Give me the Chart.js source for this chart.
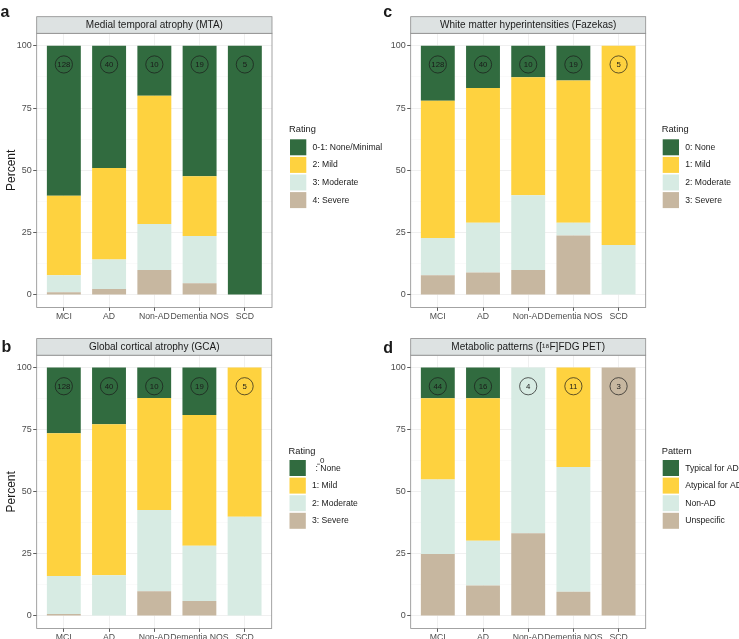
<!DOCTYPE html>
<html>
<head>
<meta charset="utf-8">
<title>Imaging ratings by diagnostic group</title>
<script src="https://cdn.jsdelivr.net/npm/chart.js@4.4.1/dist/chart.umd.min.js"></script>
<style>
    html, body { margin: 0; padding: 0; background: #fff; }
    body { position: relative; width: 739px; height: 639px; overflow: hidden; }
    canvas { position: absolute; }
</style>
</head>
<body>
<canvas id="chartA" width="400" height="320" style="left:0;top:0"></canvas>
<canvas id="chartC" width="369" height="320" style="left:370px;top:0"></canvas>
<canvas id="chartB" width="400" height="319" style="left:0;top:320px"></canvas>
<canvas id="chartD" width="369" height="319" style="left:370px;top:320px"></canvas>

<script>
// Shared categories and axis ticks
const groups = ['MCI', 'AD', 'Non-AD', 'Dementia NOS', 'SCD'];
const yTickValues = [0, 12.5, 25, 37.5, 50, 62.5, 75, 87.5, 100];
const countLevel = 92.5;

// a: Medial temporal atrophy (MTA)
const mtaLabels = ['4: Severe', '3: Moderate', '2: Mild', '0-1: None/Minimal'];
const mtaCounts = [128, 40, 10, 19, 5];
const mtaSevere = [1.1, 2.4, 10.0, 4.7, 0];
const mtaModerate = [6.8, 11.8, 18.5, 19.0, 0];
const mtaMild = [31.9, 36.7, 51.4, 23.9, 0];
const mtaNone = [60.2, 49.1, 20.1, 52.4, 100];

// b: Global cortical atrophy (GCA)
const gcaLabels = ['3: Severe', '2: Moderate', '1: Mild', '0\n: None'];
const gcaCounts = [128, 40, 10, 19, 5];
const gcaSevere = [0.8, 0, 10.0, 6.0, 0];
const gcaModerate = [15.3, 16.4, 32.7, 22.3, 40];
const gcaMild = [57.5, 60.8, 45.1, 52.6, 60];
const gcaNone = [26.4, 22.8, 12.2, 19.1, 0];

// c: White matter hyperintensities (Fazekas)
const fazLabels = ['3: Severe', '2: Moderate', '1: Mild', '0: None'];
const fazCounts = [128, 40, 10, 19, 5];
const fazSevere = [7.9, 9.0, 10.0, 23.9, 0];
const fazModerate = [15.0, 20.0, 30.0, 5.1, 20];
const fazMild = [55.0, 54.0, 47.4, 57.1, 80];
const fazNone = [22.1, 17.0, 12.6, 13.9, 0];

// d: Metabolic patterns (FDG PET)
const petLabels = ['Unspecific', 'Non-AD', 'Atypical for AD', 'Typical for AD'];
const petCounts = [44, 16, 4, 11, 3];
const petUnspecific = [25.0, 12.3, 33.3, 9.8, 100];
const petNonAD = [30.0, 18.0, 66.7, 50.2, 0];
const petAtypical = [32.7, 57.4, 0, 40.0, 0];
const petTypical = [12.3, 12.3, 0, 0, 0];

// bottom of stack -> top of stack
const fillColors = ['#c7b7a0', '#d7ebe3', '#fed23f', '#316b3f'];

Chart.defaults.font.family = '"Liberation Sans", Arial, Helvetica, sans-serif';
Chart.defaults.color = '#4d4d4d';

/**
 * Strip header, panel frame, letter, n-circles and legend
 */
const panelDecor = {
    id: 'panelDecor',
    afterDatasetsDraw(chart, args, o) {
        const { ctx, scales: { x, y } } = chart;
        ctx.save();
        o.counts.forEach((n, i) => {
            const cx = x.getPixelForValue(i);
            const cy = y.getPixelForValue(countLevel);
            ctx.beginPath();
            ctx.arc(cx, cy, 8.6, 0, Math.PI * 2);
            ctx.lineWidth = 0.7;
            ctx.strokeStyle = '#1a1a1a';
            ctx.stroke();
            ctx.fillStyle = '#1a1a1a';
            ctx.font = '7.8px "Liberation Sans", Arial, sans-serif';
            ctx.textAlign = 'center';
            ctx.textBaseline = 'middle';
            ctx.fillText(String(n), cx, cy + 0.5);
        });
        ctx.restore();
    },
    afterDraw(chart, args, o) {
        const { ctx, chartArea: a } = chart;
        ctx.save();

        // panel border
        ctx.strokeStyle = '#8c8c8c';
        ctx.lineWidth = 0.8;
        ctx.strokeRect(a.left, a.top, a.right - a.left, a.bottom - a.top);

        // strip
        const stripH = 16.6;
        ctx.fillStyle = '#dde2e2';
        ctx.fillRect(a.left, a.top - stripH, a.right - a.left, stripH);
        ctx.strokeRect(a.left, a.top - stripH, a.right - a.left, stripH);
        ctx.fillStyle = '#1a1a1a';
        ctx.font = '10px "Liberation Sans", Arial, sans-serif';
        ctx.textAlign = 'center';
        ctx.textBaseline = 'middle';
        ctx.fillText(o.title, (a.left + a.right) / 2, a.top - stripH / 2 + 0.5);

        // panel letter
        ctx.font = 'bold 16px "Liberation Sans", Arial, sans-serif';
        ctx.textAlign = 'left';
        ctx.textBaseline = 'alphabetic';
        ctx.fillText(o.letter, o.letterX, o.letterY);

        // legend
        const lg = o.legend;
        ctx.font = '9.3px "Liberation Sans", Arial, sans-serif';
        ctx.fillStyle = '#1a1a1a';
        ctx.fillText(lg.title, lg.x - 1, lg.titleY);
        const items = chart.data.datasets.slice().reverse();
        items.forEach((ds, i) => {
            const top = lg.top + i * 17.6;
            ctx.fillStyle = ds.backgroundColor;
            ctx.fillRect(lg.x, top, 16.3, 16);
            ctx.fillStyle = '#1a1a1a';
            ctx.textBaseline = 'middle';
            const parts = ds.label.split('\n');
            if (parts.length > 1) {
                ctx.font = '8px "Liberation Sans", Arial, sans-serif';
                ctx.fillText(parts[0], lg.x + 30.5, top + 1);
                ctx.lineWidth = 0.6;
                ctx.strokeStyle = '#1a1a1a';
                ctx.beginPath();
                ctx.moveTo(lg.x + 27.5, top + 4.2);
                ctx.lineTo(lg.x + 30.5, top + 4.2);
                ctx.stroke();
                ctx.font = '8.6px "Liberation Sans", Arial, sans-serif';
                ctx.fillText(parts[1], lg.x + 26, top + 9);
            } else {
                ctx.font = '8.6px "Liberation Sans", Arial, sans-serif';
                ctx.fillText(ds.label, lg.x + 22.5, top + 8.2);
            }
            ctx.textBaseline = 'alphabetic';
        });

        ctx.restore();
    }
};

/**
 * Build one stacked percentage panel
 */
function createRatingChart(canvasId, s) {
    const canvas = document.getElementById(canvasId);
    if (!canvas) return;

    const datasets = s.series.map((values, i) => ({
        label: s.labels[i],
        data: values.map((v, k) => ({ x: k, y: v })),
        backgroundColor: fillColors[i],
        borderWidth: 0,
        barPercentage: 0.75,
        categoryPercentage: 1
    }));

    const isMajor = c => c.tick && c.tick.value % 25 === 0;

    new Chart(canvas.getContext('2d'), {
        type: 'bar',
        data: { datasets },
        options: {
            responsive: false,
            animation: false,
            layout: {
                padding: { top: s.plotTop, right: canvas.width - s.plotRight, left: 0, bottom: 0 }
            },
            plugins: {
                legend: { display: false },
                tooltip: { enabled: false },
                panelDecor: {
                    title: s.title,
                    letter: s.letter,
                    letterX: s.letterX,
                    letterY: s.letterY,
                    counts: s.counts,
                    legend: s.legend
                }
            },
            scales: {
                x: {
                    type: 'linear',
                    stacked: true,
                    min: -0.6,
                    max: 4.6,
                    offset: false,
                    afterBuildTicks: sc => { sc.ticks = groups.map((g, i) => ({ value: i })); },
                    afterFit: sc => { sc.height = canvas.height - s.plotBottom; },
                    ticks: {
                        callback: v => groups[v],
                        autoSkip: false,
                        maxRotation: 0,
                        minRotation: 0,
                        padding: 0,
                        color: '#4d4d4d',
                        font: { size: 8.7 }
                    },
                    grid: {
                        offset: false,
                        color: '#ececec',
                        lineWidth: 0.8,
                        tickLength: 3.5,
                        tickColor: '#333',
                        tickWidth: 0.8
                    },
                    border: { display: false }
                },
                y: {
                    stacked: true,
                    min: -5,
                    max: 105,
                    afterBuildTicks: sc => { sc.ticks = yTickValues.map(v => ({ value: v })); },
                    afterFit: sc => { sc.width = s.plotLeft; },
                    ticks: {
                        callback: v => (v % 25 === 0 ? v : ''),
                        autoSkip: false,
                        padding: 1.5,
                        color: '#4d4d4d',
                        font: { size: 9 }
                    },
                    grid: {
                        color: c => (isMajor(c) ? '#ececec' : '#f5f5f5'),
                        lineWidth: c => (isMajor(c) ? 0.8 : 0.5),
                        tickLength: 3.5,
                        tickColor: c => (isMajor(c) ? '#333' : 'rgba(0,0,0,0)'),
                        tickWidth: 0.8
                    },
                    border: { display: false },
                    title: {
                        display: !!s.yTitle,
                        text: s.yTitle || '',
                        color: '#1a1a1a',
                        font: { size: 12 },
                        padding: { top: 4, bottom: 4 }
                    }
                }
            }
        },
        plugins: [panelDecor]
    });
}

document.addEventListener('DOMContentLoaded', function() {
    createRatingChart('chartA', {
        title: 'Medial temporal atrophy (MTA)', letter: 'a', letterX: 0.5, letterY: 16.7,
        labels: mtaLabels, counts: mtaCounts,
        series: [mtaSevere, mtaModerate, mtaMild, mtaNone],
        plotLeft: 36.7, plotRight: 272, plotTop: 33.3, plotBottom: 307.4,
        yTitle: 'Percent',
        legend: { title: 'Rating', x: 290, titleY: 132, top: 139.3 }
    });
    createRatingChart('chartC', {
        title: 'White matter hyperintensities (Fazekas)', letter: 'c', letterX: 13.3, letterY: 16.7,
        labels: fazLabels, counts: fazCounts,
        series: [fazSevere, fazModerate, fazMild, fazNone],
        plotLeft: 40.7, plotRight: 275.7, plotTop: 33.3, plotBottom: 307.4,
        legend: { title: 'Rating', x: 292.7, titleY: 132, top: 139.3 }
    });
    createRatingChart('chartB', {
        title: 'Global cortical atrophy (GCA)', letter: 'b', letterX: 1.5, letterY: 32,
        labels: gcaLabels, counts: gcaCounts,
        series: [gcaSevere, gcaModerate, gcaMild, gcaNone],
        plotLeft: 36.7, plotRight: 271.7, plotTop: 35.2, plotBottom: 308.4,
        yTitle: 'Percent',
        legend: { title: 'Rating', x: 289.5, titleY: 133.5, top: 140 }
    });
    createRatingChart('chartD', {
        title: 'Metabolic patterns ([\u00B9\u2078F]FDG PET)', letter: 'd', letterX: 13.3, letterY: 32.5,
        labels: petLabels, counts: petCounts,
        series: [petUnspecific, petNonAD, petAtypical, petTypical],
        plotLeft: 40.7, plotRight: 275.7, plotTop: 35.2, plotBottom: 308.4,
        legend: { title: 'Pattern', x: 292.7, titleY: 133.5, top: 140 }
    });
});
</script>
</body>
</html>
